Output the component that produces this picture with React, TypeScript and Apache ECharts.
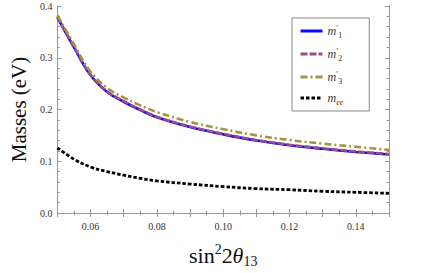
import React, { useEffect, useRef } from "react";
import * as echarts from "echarts";

const xs = [0.05, 0.055, 0.06, 0.065, 0.07, 0.075, 0.08, 0.09, 0.10, 0.11, 0.12, 0.13, 0.14, 0.15];
const m1 = [0.378, 0.32, 0.266, 0.234, 0.215, 0.199, 0.185, 0.166, 0.152, 0.140, 0.131, 0.124, 0.118, 0.113];
const m2 = [0.379, 0.321, 0.267, 0.235, 0.216, 0.200, 0.186, 0.167, 0.153, 0.141, 0.132, 0.125, 0.119, 0.114];
const m3 = [0.382, 0.326, 0.273, 0.242, 0.223, 0.208, 0.195, 0.176, 0.162, 0.150, 0.141, 0.134, 0.128, 0.122];
const mee = [0.126, 0.104, 0.089, 0.080, 0.073, 0.067, 0.062, 0.056, 0.051, 0.047, 0.045, 0.042, 0.040, 0.038];
const seriesNames = ["m1", "m2", "m3", "mee"];

const SERIF = "Liberation Serif";

export default function App() {
  const ref = useRef<HTMLDivElement>(null);
  useEffect(() => {
    const chart = echarts.init(ref.current!, null, { renderer: "svg" });
    const pair = (ys: number[]) => xs.map((x, i) => [x, ys[i]]);
    const xBase = {
      type: "value",
      min: 0.05,
      max: 0.15,
      interval: 0.01,
      axisLine: { show: true, lineStyle: { color: "#999", width: 1 } },
      axisTick: { show: true, inside: true, length: 4, lineStyle: { color: "#999" } },
      minorTick: { show: true, splitNumber: 2, length: 2.5, lineStyle: { color: "#999" } },
      splitLine: { show: false },
    };
    const yBase = {
      type: "value",
      min: 0,
      max: 0.4,
      interval: 0.1,
      axisLine: { show: true, lineStyle: { color: "#999", width: 1 } },
      axisTick: { show: true, inside: true, length: 4, lineStyle: { color: "#999" } },
      minorTick: { show: true, splitNumber: 5, length: 2.5, lineStyle: { color: "#999" } },
      splitLine: { show: false },
    };
    const legendRich = {
      i: { fontFamily: SERIF, fontStyle: "italic", fontSize: 12, color: "#333", lineHeight: 16, verticalAlign: "middle" },
      p: { fontFamily: SERIF, fontSize: 9, color: "#333", lineHeight: 9, verticalAlign: "top" },
      s: { fontFamily: SERIF, fontSize: 8, color: "#333", lineHeight: 8, verticalAlign: "bottom" },
      se: { fontFamily: SERIF, fontStyle: "italic", fontSize: 8, color: "#333", lineHeight: 8, verticalAlign: "bottom" },
    };
    chart.setOption({
      animation: false,
      backgroundColor: "#fff",
      grid: { left: 48, right: 47, top: 6, bottom: 57 },
      xAxis: [
        {
          ...xBase,
          position: "bottom",
          axisLabel: {
            show: true,
            fontFamily: SERIF,
            fontSize: 10,
            color: "#333",
            margin: 8,
            formatter: (v: number) => {
              const k = Math.round(v * 100);
              return k % 2 === 0 && k > 5 && k < 15 ? v.toFixed(2) : "";
            },
          },
          name: "{a|sin}{sup|2}{a|2}{t|θ}{sub|13}",
          nameLocation: "middle",
          nameGap: 29,
          nameTextStyle: {
            rich: {
              a: { fontFamily: SERIF, fontSize: 22, color: "#111", lineHeight: 26, verticalAlign: "middle" },
              t: { fontFamily: SERIF, fontSize: 22, fontStyle: "italic", color: "#111", lineHeight: 26, verticalAlign: "middle" },
              sup: { fontFamily: SERIF, fontSize: 14, color: "#111", lineHeight: 14, verticalAlign: "top" },
              sub: { fontFamily: SERIF, fontSize: 14, color: "#111", lineHeight: 14, verticalAlign: "bottom" },
            },
          },
        },
        { ...xBase, position: "top", axisLabel: { show: false } },
      ],
      yAxis: [
        {
          ...yBase,
          position: "left",
          axisLabel: {
            show: true,
            fontFamily: SERIF,
            fontSize: 10,
            color: "#333",
            margin: 5,
            formatter: (v: number) => v.toFixed(1),
          },
          name: "Masses (eV)",
          nameLocation: "middle",
          nameGap: 28,
          nameTextStyle: { fontFamily: SERIF, fontSize: 21, color: "#111" },
        },
        { ...yBase, position: "right", axisLabel: { show: false } },
      ],
      legend: {
        orient: "vertical",
        left: 292,
        top: 18,
        padding: [5, 26, 5, 7],
        itemWidth: 22,
        itemHeight: 14,
        itemGap: 7,
        backgroundColor: "#fff",
        borderColor: "#888",
        borderWidth: 1,
        itemStyle: { opacity: 0 },
        lineStyle: { width: 3 },
        data: seriesNames,
        formatter: (name: string) => {
          if (name === "m1") return "{i|m}{p|′}{s|1}";
          if (name === "m2") return "{i|m}{p|′}{s|2}";
          if (name === "m3") return "{i|m}{p|′}{s|3}";
          return "{i|m}{se|ee}";
        },
        textStyle: { rich: legendRich },
      },
      series: [
        {
          name: "m1",
          type: "line",
          data: pair(m1),
          smooth: 0.4,
          symbol: "none",
          lineStyle: { color: "#0a0aff", width: 2.6, type: "solid" },
          itemStyle: { color: "#0a0aff" },
        },
        {
          name: "m2",
          type: "line",
          data: pair(m2),
          smooth: 0.4,
          symbol: "none",
          lineStyle: { color: "#a04a84", width: 2.6, type: [7, 2] },
          itemStyle: { color: "#a04a84" },
        },
        {
          name: "m3",
          type: "line",
          data: pair(m3),
          smooth: 0.4,
          symbol: "none",
          lineStyle: { color: "#a09545", width: 2.6, type: [7, 3, 2, 3] },
          itemStyle: { color: "#a09545" },
        },
        {
          name: "mee",
          type: "line",
          data: pair(mee),
          smooth: 0.4,
          symbol: "none",
          lineStyle: { color: "#000", width: 2.8, type: [3.5, 2] },
          itemStyle: { color: "#000" },
        },
      ],
    });
    return () => chart.dispose();
  }, []);
  return <div ref={ref} style={{ width: 436, height: 273, position: "absolute", left: 0, top: 0 }} />;
}
